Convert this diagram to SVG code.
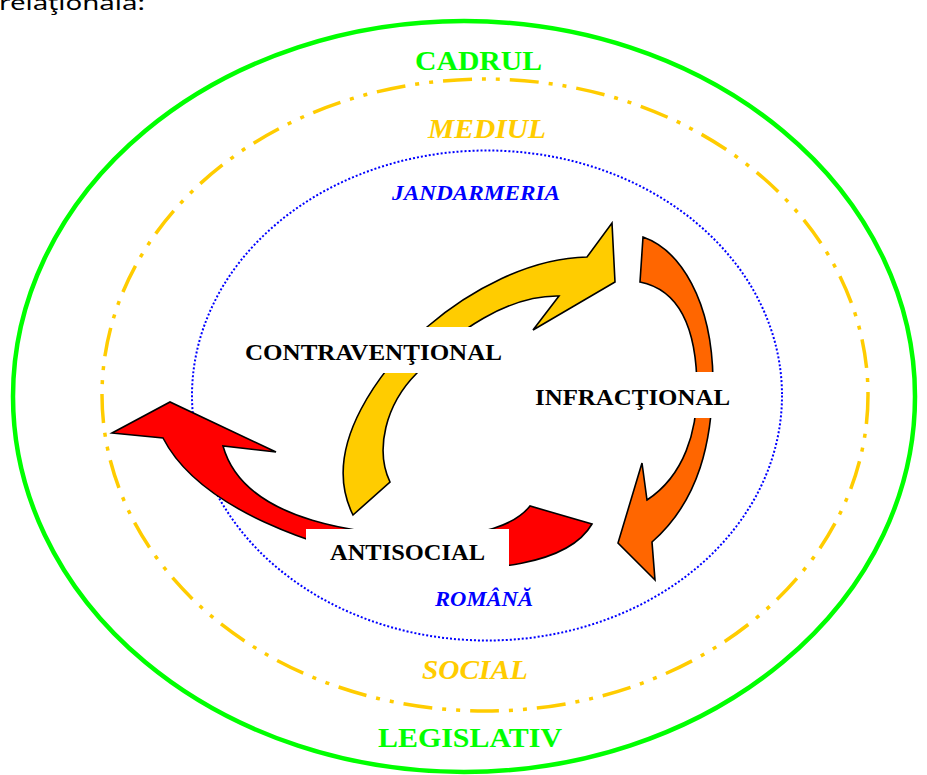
<svg xmlns="http://www.w3.org/2000/svg" width="927" height="775" viewBox="0 0 927 775">
<style>
.bg{fill:#ffffff}
.ring{fill:none}
.green{stroke:#00ff00;stroke-width:4.5}
.yellow{stroke:#ffcc00;stroke-width:3.5;stroke-dasharray:29 10 4 10 4 10}
.blue{stroke:#0000ff;stroke-width:2;stroke-dasharray:2 2}
.arrow{stroke:#000000;stroke-width:1.6;stroke-linejoin:miter}
.box{fill:#ffffff;stroke:none}
.lbl{font-family:"Liberation Serif","Times New Roman",serif;font-weight:bold;fill:#000000;font-size:24px}
.ring-lbl{font-family:"Liberation Serif","Times New Roman",serif;font-weight:bold;font-size:28px}
.script{font-family:"Liberation Serif","Times New Roman",serif;font-weight:bold;font-style:italic;font-size:20px;fill:#0000ff}
</style>
<rect class="bg" x="0" y="0" width="927" height="775"/>
<text x="-1" y="9.5" font-family="'Noto Sans','Open Sans',sans-serif" font-size="20" fill="#000000" textLength="146" lengthAdjust="spacingAndGlyphs">relaţională:</text>

<g id="rings">
<ellipse id="cadrul-ring" class="ring green" cx="464" cy="396.5" rx="451" ry="375.5"/>
<ellipse id="mediul-ring" class="ring yellow" cx="485" cy="395" rx="383" ry="316"/>
<ellipse id="jandarmeria-ring" class="ring blue" cx="487" cy="395.5" rx="295" ry="245"/>
</g>

<g id="ring-labels">
<text id="t-cadrul" class="ring-lbl" x="415" y="70" fill="#00ff00" textLength="127" lengthAdjust="spacingAndGlyphs">CADRUL</text>
<text id="t-mediul" class="ring-lbl" x="428" y="138" fill="#ffcc00" font-style="italic" textLength="118" lengthAdjust="spacingAndGlyphs">MEDIUL</text>
<text id="t-jandarmeria" class="script" x="392" y="200" textLength="168" lengthAdjust="spacingAndGlyphs">JANDARMERIA</text>
<text id="t-romana" class="script" x="435" y="606" textLength="98" lengthAdjust="spacingAndGlyphs">ROMÂNĂ</text>
<text id="t-social" class="ring-lbl" x="422" y="679" fill="#ffcc00" font-style="italic" textLength="106" lengthAdjust="spacingAndGlyphs">SOCIAL</text>
<text id="t-legislativ" class="ring-lbl" x="378" y="747" fill="#00ff00" font-size="29" textLength="184" lengthAdjust="spacingAndGlyphs">LEGISLATIV</text>
</g>

<g id="connectors">
<path id="arrow-contraventional-infractional" class="arrow" fill="#ffcc00" d="M353,515 L390,482 C375,450 385,405 417,373 C455,330 510,295 559,296 L533,330 L615,282 L612,223 L587,257 C530,258 470,290 427,327 C385,365 318,445 353,515 Z"/>
<path id="arrow-infractional-antisocial" class="arrow" fill="#ff6600" d="M643,237 C680,250 712,300 713,380 C712,440 700,500 652,542 L655,580 L618,543 L642,463 L647,500 C685,475 697,430 697,390 C697,330 680,290 640,282 Z"/>
<path id="arrow-antisocial-out" class="arrow" fill="#ff0000" d="M592,524 C570,562 490,578 400,562 C320,550 200,510 163,438 L112,433 L170,402 L276,452 L223,446 C245,525 370,535 430,536 C480,537 515,525 530,506 Z"/>
</g>

<g id="node-contraventional">
<rect class="box" x="235" y="327" width="277" height="46"/>
<text class="lbl" x="245" y="360" textLength="257" lengthAdjust="spacingAndGlyphs">CONTRAVENŢIONAL</text>
</g>
<g id="node-infractional">
<rect class="box" x="528" y="372" width="210" height="46"/>
<text class="lbl" x="535" y="405" textLength="195" lengthAdjust="spacingAndGlyphs">INFRACŢIONAL</text>
</g>
<g id="node-antisocial">
<rect class="box" x="306" y="529" width="203" height="46"/>
<text class="lbl" x="330" y="560" textLength="155" lengthAdjust="spacingAndGlyphs">ANTISOCIAL</text>
</g>
</svg>
